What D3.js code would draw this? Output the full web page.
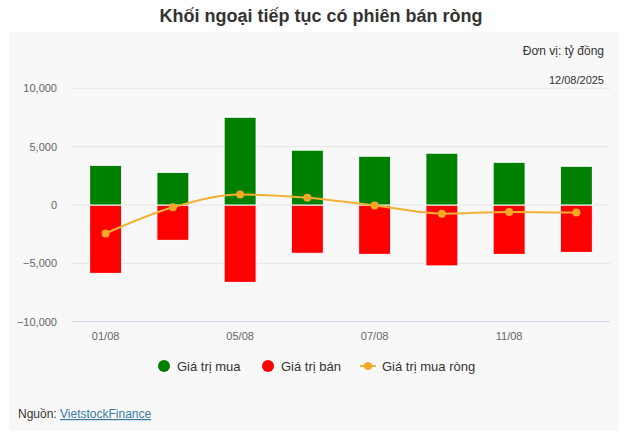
<!DOCTYPE html>
<html>
<head>
<meta charset="utf-8">
<script src="https://cdn.jsdelivr.net/npm/d3@7"></script>
<style>
  html, body { margin: 0; padding: 0; background: #ffffff; }
  svg { display: block; font-family: "Liberation Sans", Arial, sans-serif; }
</style>
</head>
<body>
<svg id="chart" width="642" height="438"></svg>
<script>
const categories = ["01/08", "04/08", "05/08", "06/08", "07/08", "08/08", "11/08", "12/08"];
const buyValues  = [3400, 2800, 7520, 4700, 4180, 4440, 3660, 3320];
const sellValues = [-5860, -3030, -6630, -4140, -4230, -5220, -4230, -4060];
const netValues  = [-2440, -200, 900, 620, -40, -740, -590, -650];
const yTicks = [-10000, -5000, 0, 5000, 10000];
const xTickLabels = ["01/08", "05/08", "07/08", "11/08"];
const seriesNames = ["Giá trị mua", "Giá trị bán", "Giá trị mua ròng"];
const colors = { buy: "#008000", sell: "#ff0000", net: "#f2b134", netMarker: "#f7a826" };

const svg = d3.select("#chart");

// panel
svg.append("rect").attr("x", 9).attr("y", 32).attr("width", 610).attr("height", 399).attr("fill", "#f8f8f8");

// title
svg.append("text").attr("x", 321).attr("y", 22).attr("text-anchor", "middle")
  .attr("font-size", 18).attr("font-weight", "bold").attr("fill", "#333333")
  .text("Khối ngoại tiếp tục có phiên bán ròng");

svg.append("text").attr("x", 604).attr("y", 55).attr("text-anchor", "end")
  .attr("font-size", 12).attr("fill", "#333333").text("Đơn vị: tỷ đồng");
svg.append("text").attr("x", 604).attr("y", 84).attr("text-anchor", "end")
  .attr("font-size", 11).attr("fill", "#333333").text("12/08/2025");

const x = d3.scaleBand().domain(categories).range([72, 610]).paddingInner(0).paddingOuter(0);
const y = d3.scaleLinear().domain([-10000, 10000]).range([321.7, 88.3]);

// y axis labels
const yAxis = d3.axisLeft(y).tickValues(yTicks).tickFormat(d3.format(",")).tickSize(0).tickPadding(15);
const gy = svg.append("g").attr("transform", "translate(72,0)").call(yAxis);
gy.select(".domain").remove();
gy.selectAll("text").attr("font-size", 11).attr("fill", "#666666").attr("font-family", "Liberation Sans, Arial, sans-serif");

// grid
svg.append("g").selectAll("line").data(yTicks.filter(d => d !== -10000)).join("line")
  .attr("x1", 72).attr("x2", 610).attr("y1", d => y(d)).attr("y2", d => y(d))
  .attr("stroke", "#e6e6e6").attr("stroke-width", 1);

// x axis line
svg.append("line").attr("x1", 72).attr("x2", 610).attr("y1", y(-10000)).attr("y2", y(-10000))
  .attr("stroke", "#ccd6eb").attr("stroke-width", 1);

const xAxis = d3.axisBottom(x).tickValues(xTickLabels).tickSize(0).tickPadding(11);
const gx = svg.append("g").attr("transform", `translate(0,${y(-10000)})`).call(xAxis);
gx.select(".domain").remove();
gx.selectAll("text").attr("font-size", 11).attr("fill", "#666666").attr("font-family", "Liberation Sans, Arial, sans-serif");

const barW = 32;
const cx = d => x(d) + x.bandwidth() / 2;

// sell bars
svg.append("g").selectAll("rect").data(categories).join("rect")
  .attr("x", d => cx(d) - barW / 2)
  .attr("y", () => y(0))
  .attr("width", barW)
  .attr("height", (d, i) => y(sellValues[i]) - y(0))
  .attr("fill", colors.sell).attr("stroke", "#ffffff").attr("stroke-width", 1);

// buy bars
svg.append("g").selectAll("rect").data(categories).join("rect")
  .attr("x", d => cx(d) - barW / 2)
  .attr("y", (d, i) => y(buyValues[i]))
  .attr("width", barW)
  .attr("height", (d, i) => y(0) - y(buyValues[i]))
  .attr("fill", colors.buy).attr("stroke", "#ffffff").attr("stroke-width", 1);

// net line
const line = d3.line().x((d, i) => cx(categories[i])).y(d => y(d)).curve(d3.curveMonotoneX);
svg.append("path").datum(netValues).attr("d", line)
  .attr("fill", "none").attr("stroke", colors.net).attr("stroke-width", 2);
svg.append("g").selectAll("circle").data(netValues).join("circle")
  .attr("cx", (d, i) => cx(categories[i])).attr("cy", d => y(d)).attr("r", 4)
  .attr("fill", colors.netMarker);

// legend
const lg = svg.append("g");
lg.append("circle").attr("cx", 164).attr("cy", 366).attr("r", 6).attr("fill", colors.buy);
lg.append("text").attr("x", 177).attr("y", 370.5).attr("font-size", 13).attr("fill", "#333333").text(seriesNames[0]);
lg.append("circle").attr("cx", 268).attr("cy", 366).attr("r", 6).attr("fill", colors.sell);
lg.append("text").attr("x", 281).attr("y", 370.5).attr("font-size", 13).attr("fill", "#333333").text(seriesNames[1]);
lg.append("line").attr("x1", 360).attr("x2", 376).attr("y1", 366).attr("y2", 366).attr("stroke", colors.net).attr("stroke-width", 2);
lg.append("circle").attr("cx", 368).attr("cy", 366).attr("r", 4).attr("fill", colors.netMarker);
lg.append("text").attr("x", 382).attr("y", 370.5).attr("font-size", 13).attr("fill", "#333333").text(seriesNames[2]);

// source
const src = svg.append("text").attr("x", 18).attr("y", 418).attr("font-size", 12).attr("fill", "#333333");
src.append("tspan").text("Nguồn: ");
src.append("tspan").attr("fill", "#3a7aa6").attr("text-decoration", "underline").text("VietstockFinance");
</script>
</body>
</html>
